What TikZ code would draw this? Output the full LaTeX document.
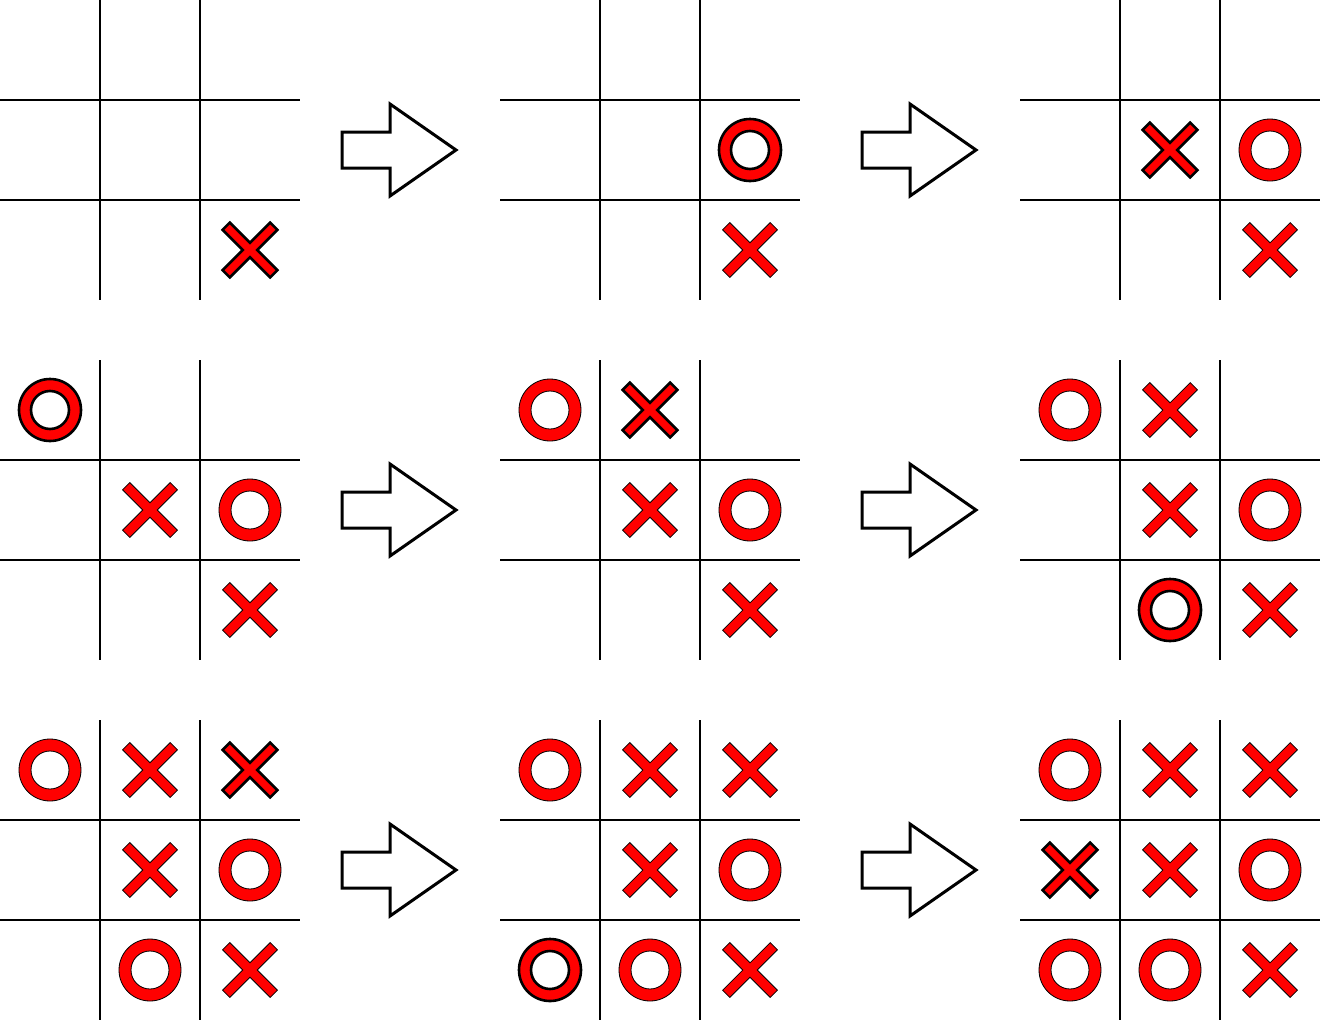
\documentclass[tikz,border=0pt]{standalone}
\begin{document}
\begin{tikzpicture}[x=1pt,y=-1pt,
  gridline/.style={line width=2pt,black},
  plain/.style={fill=red,draw=black,line width=0.8pt},
  hl/.style={fill=red,draw=black,line width=2.6pt},
  bigarrow/.style={draw=black,line width=3pt,fill=white,line join=miter}]
\useasboundingbox (0,0) rectangle (1320,1020);
% X shape: #1 style, #2 board x, #3 board y, #4 col, #5 row
\newcommand\myX[5]{%
  \begin{scope}[shift={(#2+#4*100+50,#3+#5*100+50)}]
  \path[#1] (7.2,0) -- (27.4,-20.2) -- (20.2,-27.4) -- (0,-7.2) -- (-20.2,-27.4) -- (-27.4,-20.2)
   -- (-7.2,0) -- (-27.4,20.2) -- (-20.2,27.4) -- (0,7.2) -- (20.2,27.4) -- (27.4,20.2) -- cycle;
  \end{scope}}
\newcommand\myO[5]{%
  \path[#1,even odd rule] (#2+#4*100+50,#3+#5*100+50) circle[radius=31pt]
     (#2+#4*100+50,#3+#5*100+50) circle[radius=19pt];}
% grids
\foreach \bx in {0,500,1020}{
 \foreach \by in {0,360,720}{
  \draw[gridline] (\bx+100,\by) -- (\bx+100,\by+300);
  \draw[gridline] (\bx+200,\by) -- (\bx+200,\by+300);
  \draw[gridline] (\bx,\by+100) -- (\bx+300,\by+100);
  \draw[gridline] (\bx,\by+200) -- (\bx+300,\by+200);
 }}
% arrows
\foreach \ax in {0,520}{
 \foreach \ay in {0,360,720}{
  \draw[bigarrow] (\ax+342,\ay+132) -- (\ax+390,\ay+132) -- (\ax+390,\ay+104) -- (\ax+456,\ay+150)
    -- (\ax+390,\ay+196) -- (\ax+390,\ay+168) -- (\ax+342,\ay+168) -- cycle;
 }}
% board 1
\myX{hl}{0}{0}{2}{2}
% board 2
\myO{hl}{500}{0}{2}{1}
\myX{plain}{500}{0}{2}{2}
% board 3
\myX{hl}{1020}{0}{1}{1}
\myO{plain}{1020}{0}{2}{1}
\myX{plain}{1020}{0}{2}{2}
% board 4
\myO{hl}{0}{360}{0}{0}
\myX{plain}{0}{360}{1}{1}
\myO{plain}{0}{360}{2}{1}
\myX{plain}{0}{360}{2}{2}
% board 5
\myO{plain}{500}{360}{0}{0}
\myX{hl}{500}{360}{1}{0}
\myX{plain}{500}{360}{1}{1}
\myO{plain}{500}{360}{2}{1}
\myX{plain}{500}{360}{2}{2}
% board 6
\myO{plain}{1020}{360}{0}{0}
\myX{plain}{1020}{360}{1}{0}
\myX{plain}{1020}{360}{1}{1}
\myO{plain}{1020}{360}{2}{1}
\myO{hl}{1020}{360}{1}{2}
\myX{plain}{1020}{360}{2}{2}
% board 7
\myO{plain}{0}{720}{0}{0}
\myX{plain}{0}{720}{1}{0}
\myX{hl}{0}{720}{2}{0}
\myX{plain}{0}{720}{1}{1}
\myO{plain}{0}{720}{2}{1}
\myO{plain}{0}{720}{1}{2}
\myX{plain}{0}{720}{2}{2}
% board 8
\myO{plain}{500}{720}{0}{0}
\myX{plain}{500}{720}{1}{0}
\myX{plain}{500}{720}{2}{0}
\myX{plain}{500}{720}{1}{1}
\myO{plain}{500}{720}{2}{1}
\myO{hl}{500}{720}{0}{2}
\myO{plain}{500}{720}{1}{2}
\myX{plain}{500}{720}{2}{2}
% board 9
\myO{plain}{1020}{720}{0}{0}
\myX{plain}{1020}{720}{1}{0}
\myX{plain}{1020}{720}{2}{0}
\myX{hl}{1020}{720}{0}{1}
\myX{plain}{1020}{720}{1}{1}
\myO{plain}{1020}{720}{2}{1}
\myO{plain}{1020}{720}{0}{2}
\myO{plain}{1020}{720}{1}{2}
\myX{plain}{1020}{720}{2}{2}
\end{tikzpicture}
\end{document}
